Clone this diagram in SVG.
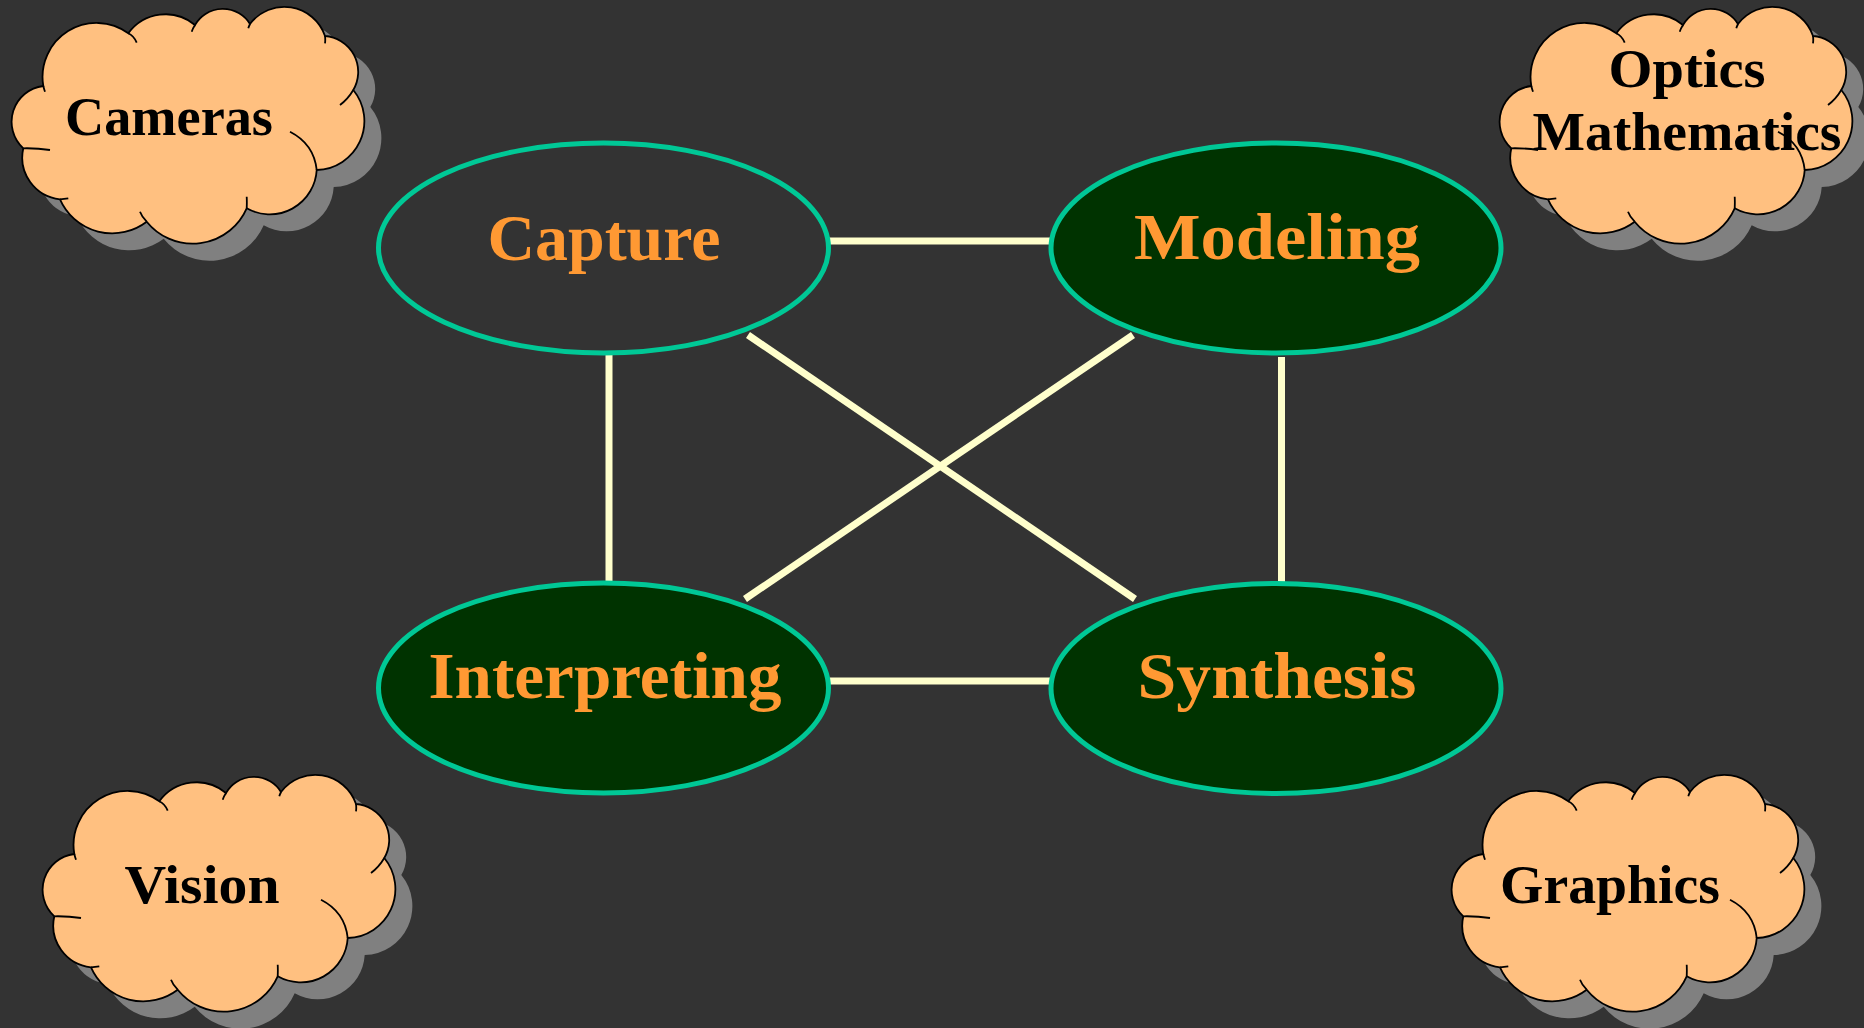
<svg xmlns="http://www.w3.org/2000/svg" width="1864" height="1028" viewBox="0 0 1864 1028">
<style>
.bg{fill:#333333}
.ell{stroke:#00C896;stroke-width:5}
.lbl{font-family:"Liberation Serif","Times New Roman",serif;font-weight:bold;font-size:66px;fill:#FF9933;text-anchor:middle}
.ctext{font-family:"Liberation Serif","Times New Roman",serif;font-weight:bold;font-size:54px;fill:#000000;text-anchor:middle}
.con{stroke:#FFFFCC;stroke-width:7;fill:none}
.cloud{fill:#FFC080;stroke:#000000;stroke-width:1.8}
.shadow{fill:#808080}
.hook{fill:none;stroke:#000000;stroke-width:1.8}
</style>
<defs>
<path id="cloudShape" d="M31.3,79 A36,36 0 0 0 11.3,141.3 A42,42 0 0 0 48,192.3 A57,57 0 0 0 134.7,214.7 A59,59 0 0 0 234.7,201.3 A47,47 0 0 0 304.7,163 A49,49 0 0 0 341.3,83 A36,36 0 0 0 313,29 A43,43 0 0 0 238,17 A32,32 0 0 0 183,18 A46,46 0 0 0 116.3,26.3 A54,54 0 0 0 31.3,79 Z"/>
<path id="cloudHooks" d="M116.3,26.3 Q122,29 124.7,35.7 M183,18 Q181,21 179.7,24.7 M238,17 Q237,19 236.3,21.3 M313,29 Q313.5,33 313,36.3 M341.3,83 Q336,92 328,98 M278,124.7 Q302,137 304.7,163 M234.7,201.3 Q235,195 234.7,189.7 M134.7,214.7 Q130,210 128,204.7 M48,192.3 Q52,192 56.3,191.3 M11.3,141.3 Q25,141 38,143 M31.3,79 Q32,82 33,84.7"/>
</defs>
<rect class="bg" x="0" y="0" width="1864" height="1028"/>

<g id="connectors">
<line class="con" x1="827" y1="241" x2="1051" y2="241"/>
<line class="con" x1="609" y1="353" x2="609" y2="582"/>
<line class="con" x1="1281.5" y1="357" x2="1281.5" y2="585"/>
<line class="con" x1="830" y1="681" x2="1057" y2="681"/>
<line class="con" x1="748" y1="335" x2="1135" y2="599"/>
<line class="con" x1="1133" y1="335" x2="745" y2="599"/>
</g>

<g id="capture">
<ellipse class="ell" cx="603.5" cy="248" rx="225" ry="105" fill="#333333"/>
<text class="lbl" x="604" y="260" textLength="233" lengthAdjust="spacingAndGlyphs">Capture</text>
</g>
<g id="modeling">
<ellipse class="ell" cx="1276" cy="248" rx="225" ry="105" fill="#003300"/>
<text class="lbl" x="1277" y="259" textLength="286" lengthAdjust="spacingAndGlyphs">Modeling</text>
</g>
<g id="interpreting">
<ellipse class="ell" cx="603.5" cy="688" rx="225" ry="105" fill="#003300"/>
<text class="lbl" x="605" y="698" textLength="353" lengthAdjust="spacingAndGlyphs">Interpreting</text>
</g>
<g id="synthesis">
<ellipse class="ell" cx="1276" cy="688.5" rx="225" ry="105" fill="#003300"/>
<text class="lbl" x="1277" y="698" textLength="279" lengthAdjust="spacingAndGlyphs">Synthesis</text>
</g>

<g id="cameras">
<use href="#cloudShape" class="shadow" transform="translate(29,24)"/>
<use href="#cloudShape" class="cloud" transform="translate(12,7)"/>
<use href="#cloudHooks" class="hook" transform="translate(12,7)"/>
<text class="ctext" x="169" y="135" textLength="208" lengthAdjust="spacingAndGlyphs">Cameras</text>
</g>
<g id="optics-mathematics">
<use href="#cloudShape" class="shadow" transform="translate(1517,24)"/>
<use href="#cloudShape" class="cloud" transform="translate(1500,7)"/>
<use href="#cloudHooks" class="hook" transform="translate(1500,7)"/>
<text class="ctext" x="1687" y="87" textLength="157" lengthAdjust="spacingAndGlyphs">Optics</text>
<text class="ctext" x="1687" y="150" textLength="309" lengthAdjust="spacingAndGlyphs">Mathematics</text>
</g>
<g id="vision">
<use href="#cloudShape" class="shadow" transform="translate(60,792)"/>
<use href="#cloudShape" class="cloud" transform="translate(43,775)"/>
<use href="#cloudHooks" class="hook" transform="translate(43,775)"/>
<text class="ctext" x="202" y="903" textLength="155" lengthAdjust="spacingAndGlyphs">Vision</text>
</g>
<g id="graphics">
<use href="#cloudShape" class="shadow" transform="translate(1469,792)"/>
<use href="#cloudShape" class="cloud" transform="translate(1452,775)"/>
<use href="#cloudHooks" class="hook" transform="translate(1452,775)"/>
<text class="ctext" x="1610" y="903" textLength="220" lengthAdjust="spacingAndGlyphs">Graphics</text>
</g>
</svg>
